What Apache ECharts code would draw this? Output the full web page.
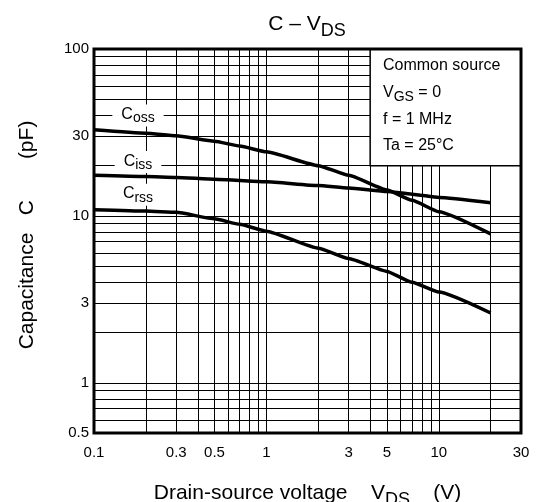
<!DOCTYPE html>
<html>
<head>
<meta charset="utf-8">
<script src="https://cdn.jsdelivr.net/npm/echarts@6/dist/echarts.min.js"></script>
<style>
html,body{margin:0;padding:0;background:#fff;}
#chart{width:536px;height:502px;}
</style>
</head>
<body>
<div id="chart"></div>
<script>
// VDS (V) and capacitances (pF)
var vds  = [0.1, 0.2, 0.3, 0.5, 0.7, 1, 2, 3, 5, 7, 10, 20];
var coss = [32.8, 31.3, 30.2, 28.0, 26.2, 24.2, 20.0, 17.5, 14.3, 12.4, 10.6, 7.8];
var ciss = [17.5, 17.2, 17.0, 16.6, 16.3, 16.0, 15.2, 14.7, 14.0, 13.5, 12.9, 12.0];
var crss = [10.9, 10.7, 10.5, 9.6, 8.9, 8.1, 6.4, 5.55, 4.65, 4.0, 3.5, 2.62];

// grid lines and tick labels
var gridX = [0.1,0.2,0.3,0.4,0.5,0.6,0.7,0.8,0.9,1,2,3,4,5,6,7,8,9,10,20,30];
var gridY = [0.5,0.6,0.7,0.8,0.9,1,2,3,4,5,6,7,8,9,10,20,30,40,50,60,70,80,90,100];
var xLabels = [0.1,0.3,0.5,1,3,5,10,30];
var yLabels = [0.5,1,3,10,30,100];

// curve names and where they sit
var curveNames = ['oss','iss','rss'];
var nameX = [0.18, 0.18, 0.18];
var nameY = [40, 21, 13.4];

// info box corners (axis values)
var boxFrom = [4, 20];
var boxTo = [30, 100];

var FONT = 'Liberation Sans, Arial, sans-serif';

function pairs(xs, ys) {
    var out = [];
    for (var i = 0; i < xs.length; i++) out.push([xs[i], ys[i]]);
    return out;
}

function subRich(big, small, shift) {
    return {
        m: {fontSize: big, lineHeight: big + 4, verticalAlign: 'top', fontFamily: FONT, fontWeight: 'normal', color: '#000'},
        s: {fontSize: small, lineHeight: small + 4, verticalAlign: 'top', fontFamily: FONT, fontWeight: 'normal', color: '#000', padding: [shift, 0, 0, 0]}
    };
}

var lineStyle = {color: '#000', width: 3.5};

var myChart = echarts.init(document.getElementById('chart'));
var option = {
    backgroundColor: '#fff',
    animation: false,
    title: {
        text: '{m|C – V}{s|DS}',
        left: 302,
        top: 9,
        textAlign: 'center',
        textStyle: {fontWeight: 'normal', rich: subRich(21, 18, 8)}
    },
    grid: {
        left: 94, right: 15, top: 49, bottom: 69,
        outerBoundsMode: 'none',
        show: true, borderColor: '#000', borderWidth: 3, backgroundColor: 'transparent', z: 10
    },
    xAxis: {
        type: 'log', logBase: 10, min: 0.1, max: 30,
        axisLine: {show: false},
        axisTick: {show: false, customValues: gridX},
        splitLine: {show: true, lineStyle: {color: '#000', width: 1}},
        axisLabel: {customValues: xLabels, color: '#000', fontSize: 15, margin: 12, fontFamily: FONT},
        name: '{m|Drain-source voltage    V}{s|DS}{m|    (V)}',
        nameLocation: 'middle',
        nameGap: 50,
        nameTextStyle: {rich: subRich(21, 18, 8)}
    },
    yAxis: {
        type: 'log', logBase: 10, min: 0.5, max: 100,
        axisLine: {show: false},
        axisTick: {show: false, customValues: gridY},
        splitLine: {show: true, lineStyle: {color: '#000', width: 1}},
        axisLabel: {customValues: yLabels, color: '#000', fontSize: 15, margin: 5, fontFamily: FONT},
        name: 'Capacitance   C       (pF)',
        nameLocation: 'middle',
        nameGap: 56,
        nameTextStyle: {color: '#000', fontSize: 21, fontFamily: FONT, padding: [0, 0, 0, 12]}
    },
    graphic: [
        {type: 'text', x: 383, y: 58, z: 100, style: {text: 'Common source', font: '16px ' + FONT, fill: '#000'}},
        {type: 'text', x: 383, y: 85, z: 100, style: {text: '{m|V}{s|GS}{m| = 0}', rich: subRich(16, 14, 5)}},
        {type: 'text', x: 383, y: 112, z: 100, style: {text: 'f = 1 MHz', font: '16px ' + FONT, fill: '#000'}},
        {type: 'text', x: 383, y: 138, z: 100, style: {text: 'Ta = 25°C', font: '16px ' + FONT, fill: '#000'}}
    ],
    series: [
        {
            name: 'Coss', type: 'line', data: pairs(vds, coss), showSymbol: false,
            smooth: 0.15, smoothMonotone: 'x',
            lineStyle: lineStyle,
            markArea: {
                silent: true,
                itemStyle: {color: '#fff', borderColor: '#000', borderWidth: 1.5},
                data: [[{coord: boxFrom}, {coord: boxTo}]]
            }
        },
        {name: 'Ciss', type: 'line', data: pairs(vds, ciss), showSymbol: false, smooth: 0.15, smoothMonotone: 'x', lineStyle: lineStyle},
        {name: 'Crss', type: 'line', data: pairs(vds, crss), showSymbol: false, smooth: 0.15, smoothMonotone: 'x', lineStyle: lineStyle},
        {
            type: 'scatter', symbolSize: 0, silent: true,
            itemStyle: {opacity: 1},
            data: pairs(nameX, nameY).map(function (p, i) {
                return {value: p, name: curveNames[i]};
            }),
            label: {
                show: true, position: 'inside', opacity: 1,
                formatter: function (p) { return '{m|C}{s|' + p.name + '}'; },
                backgroundColor: '#fff', padding: [2, 9, 0, 9],
                rich: subRich(16, 14, 5)
            }
        }
    ]
};
myChart.setOption(option);
</script>
</body>
</html>
